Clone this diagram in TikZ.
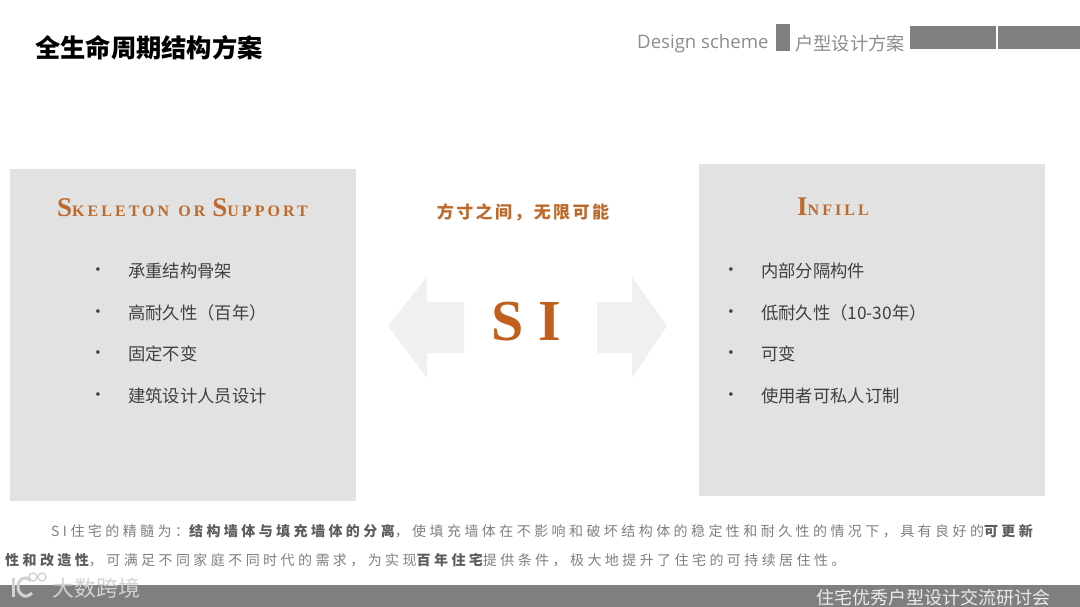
\documentclass[tikz,border=0pt]{standalone}
\usepackage{fontspec}
\setmainfont{Noto Sans CJK SC}
\newfontfamily\spacedfont[LetterSpace=24.5]{Noto Sans CJK SC}
\newfontfamily\sloganfont[LetterSpace=14]{Noto Sans CJK SC}
\newfontfamily\capsfont[LetterSpace=19]{Liberation Serif}
\newfontfamily\serifbig{Liberation Serif}
\newfontfamily\latinfont{Open Sans}
\newcommand{\fsz}[1]{\fontsize{#1}{#1}\selectfont}
\newcommand{\capsword}[2]{{\fsz{27}#1}{\fsz{16}#2}}
\definecolor{sigray}{HTML}{7F7F7F}
\definecolor{sibox}{HTML}{E2E2E2}
\definecolor{siarrow}{HTML}{F0F0F0}
\definecolor{siorange}{HTML}{BE6A2C}
\definecolor{sideep}{HTML}{C0601C}
\definecolor{sitext}{HTML}{404040}
\definecolor{simark}{HTML}{D2D2D2}
\tikzset{
  panel/.style={fill=sibox},
  bar/.style={fill=sigray},
  arrowshape/.style={fill=siarrow},
  item/.style={anchor=west, inner sep=0pt, text=sitext, font=\fsz{17.3}},
  dotmark/.style={anchor=center, inner sep=0pt, text=sitext, font=\serifbig\fsz{15}},
  para/.style={anchor=west, inner sep=0pt, text=sigray, font=\spacedfont\fsz{14}},
  boxtitle/.style={anchor=west, inner sep=0pt, text=siorange, font=\capsfont\bfseries},
  logoline/.style={draw=simark, line width=3pt}
}
\begin{document}
\begin{tikzpicture}[x=1pt,y=-1pt]
  \useasboundingbox (0,0) rectangle (1080,607);
  % header
  \node[anchor=west, inner sep=0pt, font=\bfseries\fsz{25.3}] (title) at (35,48) {全生命周期结构方案};
  \node[anchor=west, inner sep=0pt, text=sigray!90, font=\latinfont\fsz{18.6}] (design) at (637,44) {Design scheme};
  \node[anchor=west, inner sep=0pt, text=sigray!90, font=\fsz{18.3}] (huxing) at (795,43.5) {户型设计方案};
  \fill[bar] (776,24) rectangle (790,51);
  \fill[bar] (910,26) rectangle (996,49);
  \fill[bar] (998,26) rectangle (1080,49);
  % panels
  \fill[panel] (10,169) rectangle (356,501);
  \fill[panel] (699,164) rectangle (1045,496);
  \node[boxtitle] (skeleton) at (57,208) {\capsword{S}{KELETON}\hspace{9pt}\capsword{}{OR}\hspace{7pt}\capsword{S}{UPPORT}};
  \node[boxtitle] (infill) at (797,207) {\capsword{I}{NFILL}};
  % left list
  \foreach \y/\txt [count=\i] in {270/承重结构骨架,312/高耐久性（百年）,353/固定不变,395/建筑设计人员设计} {
    \node[dotmark] (ldot\i) at (98,\y+1) {•};
    \node[item] (litem\i) at (128,\y+1) {\txt};
  }
  % right list
  \foreach \y/\txt [count=\i] in {270/内部分隔构件,312/低耐久性（10-30年）,353/可变,395/使用者可私人订制} {
    \node[dotmark] (rdot\i) at (731,\y+1) {•};
    \node[item] (ritem\i) at (761,\y+1) {\txt};
  }
  % middle
  \node[inner sep=0pt, text=siorange, font=\sloganfont\bfseries\fsz{17}] (slogan) at (523,212) {方寸之间，无限可能};
  \fill[arrowshape] (388,326) -- (427,277) -- (427,302) -- (464,302) -- (464,353) -- (427,353) -- (427,378) -- cycle;
  \fill[arrowshape] (667,326) -- (632,277) -- (632,302) -- (597,302) -- (597,353) -- (632,353) -- (632,378) -- cycle;
  \node[inner sep=0pt, text=sideep, font=\serifbig\bfseries\fsz{58}] (si) at (526,322) {S I};
  % paragraph
  \node[para] (line1) at (51,531) {SI住宅的精髓为：{\bfseries\color{sitext!85}结构墙体与填充墙体的分离}，使填充墙体在不影响和破坏结构体的稳定性和耐久性的情况下，具有良好的{\bfseries\color{sitext!85}可更新}};
  \node[para] (line2) at (5,560) {{\bfseries\color{sitext!85}性和改造性}，可满足不同家庭不同时代的需求，为实现{\bfseries\color{sitext!85}百年住宅}提供条件，极大地提升了住宅的可持续居住性。};
  % footer
  \fill[bar] (0,585) rectangle (1080,607);
  \node[anchor=west, inner sep=0pt, text=white!92!black, font=\fsz{18}] (footer) at (816,597.5) {住宅优秀户型设计交流研讨会};
  % watermark
  \draw[logoline] (13,578) -- (13,597);
  \draw[logoline] (31,581) .. controls (24,574) and (18,580) .. (18,587) .. controls (18,594) and (25,600) .. (32,593);
  \draw[draw=simark, line width=1.4pt] (33,577) circle[radius=4] (42,577) circle[radius=4];
  \node[anchor=west, inner sep=0pt, text=simark, font=\fsz{22}] (mark) at (52,588) {大数跨境};
\end{tikzpicture}
\end{document}
